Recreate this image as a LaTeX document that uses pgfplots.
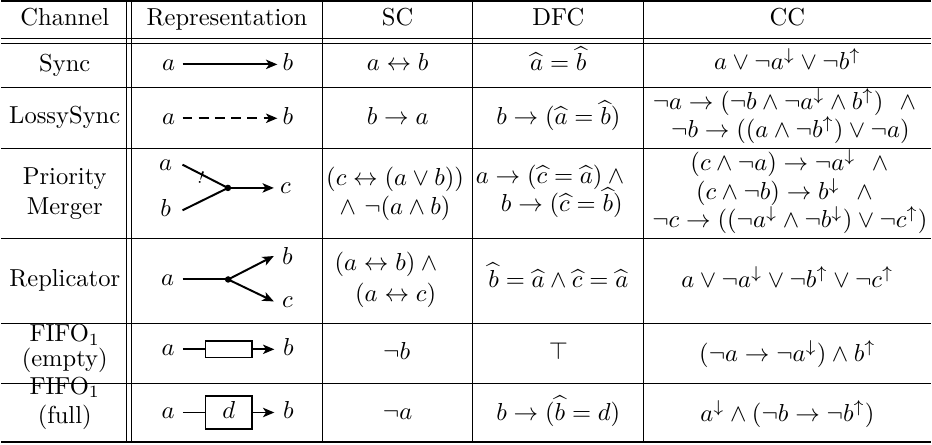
\documentclass[border=0pt]{standalone}
\usepackage{pgfplots}
\pgfplotsset{compat=1.18}
\usetikzlibrary{arrows.meta}

% one axis unit = one pixel of the reference (932 x 445), about 2.46 px per pt
\newcommand{\cell}[3]{\node[anchor=base, inner sep=0pt] at (axis cs:#1,#2) {#3};}
\tikzset{arr/.style={thick, -{Stealth[length=4.6pt, width=3.8pt, inset=1.2pt]}}}

\begin{document}
\begin{tikzpicture}
\begin{axis}[
    width=378.9pt, height=180.9pt, scale only axis,
    xmin=0, xmax=932, ymin=0, ymax=445, y dir=reverse,
    hide axis, clip=false, no marks,
]
% frame
\addplot[draw=none] coordinates {(0,0) (932,445)};
% horizontal rules
\addplot[line width=0.6pt] coordinates {(0,1) (932,1)};
\addplot[line width=0.4pt] coordinates {(0,39) (932,39)};
\addplot[line width=0.4pt] coordinates {(0,44) (932,44)};
\addplot[line width=0.4pt] coordinates {(0,88) (932,88)};
\addplot[line width=0.4pt] coordinates {(0,148.5) (932,148.5)};
\addplot[line width=0.4pt] coordinates {(0,239) (932,239)};
\addplot[line width=0.4pt] coordinates {(0,324) (932,324)};
\addplot[line width=0.4pt] coordinates {(0,384) (932,384)};
\addplot[line width=0.7pt] coordinates {(0,443) (932,443)};
% vertical rules
\addplot[line width=0.4pt] coordinates {(126,1) (126,443)};
\addplot[line width=0.4pt] coordinates {(131,1) (131,443)};
\addplot[line width=0.4pt] coordinates {(322,1) (322,443)};
\addplot[line width=0.4pt] coordinates {(473,1) (473,443)};
\addplot[line width=0.4pt] coordinates {(644,1) (644,443)};

% header
\cell{64}{26}{Channel}
\cell{226.5}{26}{Representation}
\cell{397.5}{26}{SC}
\cell{558.5}{26}{DFC}
\cell{788}{26}{CC}

% Sync
\cell{64}{72}{Sync}
\cell{168}{71}{$a$}
\cell{287.5}{71}{$b$}
\addplot[arr] coordinates {(182,64.5) (277,64.5)};
\cell{397.5}{71}{$a \leftrightarrow b$}
\cell{558.5}{71}{$\widehat{a} = \widehat{b}$}
\cell{788}{70}{$a \vee \neg a^{\downarrow} \vee \neg b^{\uparrow}$}

% LossySync
\cell{64}{124}{LossySync}
\cell{168}{124.5}{$a$}
\cell{287.5}{124.5}{$b$}
\addplot[arr, dash pattern=on 4pt off 2.6pt] coordinates {(182,118.5) (277,118.5)};
\cell{397.5}{125}{$b \rightarrow a$}
\cell{558.5}{125}{$b \rightarrow (\widehat{a} = \widehat{b})$}
\cell{785}{110}{$\neg a \rightarrow (\neg b \wedge \neg a^{\downarrow} \wedge b^{\uparrow})\ \ \wedge$}
\cell{791}{138}{$\neg b \rightarrow ((a \wedge \neg b^{\uparrow}) \vee \neg a)$}

% Priority Merger
\cell{64}{185}{Priority}
\cell{64}{215}{Merger}
\cell{165}{170.5}{$a$}
\cell{165}{216.5}{$b$}
\cell{285}{193.5}{$c$}
\addplot[thick] coordinates {(182,165) (227.5,188.3)};
\addplot[thick] coordinates {(182,210.7) (227.5,188.3)};
\addplot[arr] coordinates {(227.5,188.3) (273.5,188.3)};
\addplot[only marks, mark=*, mark size=1.1pt] coordinates {(227.5,188.3)};
\node[rotate=-18, inner sep=0pt] at (axis cs:201,178) {\scriptsize !};
\cell{395}{186}{$(c \leftrightarrow (a \vee b))$}
\cell{395}{215}{$\wedge\ \neg(a \wedge b)$}
\cell{553}{184}{$a \rightarrow (\widehat{c} = \widehat{a}) \wedge{}$}
\cell{562}{212}{$b \rightarrow (\widehat{c} = \widehat{b})$}
\cell{790}{171}{$(c \wedge \neg a) \rightarrow \neg a^{\downarrow}\ \ \wedge$}
\cell{785}{199.5}{$(c \wedge \neg b) \rightarrow b^{\downarrow}\ \ \wedge$}
\cell{790.5}{228}{$\neg c \rightarrow ((\neg a^{\downarrow} \wedge \neg b^{\downarrow}) \vee \neg c^{\uparrow})$}

% Replicator
\cell{64}{287}{Replicator}
\cell{167}{286.5}{$a$}
\cell{287}{265}{$b$}
\cell{287}{308}{$c$}
\addplot[thick] coordinates {(182,280) (227.7,280)};
\addplot[arr] coordinates {(227.7,280) (273.5,256.5)};
\addplot[arr] coordinates {(227.7,280) (273.5,302)};
\addplot[only marks, mark=*, mark size=1.1pt] coordinates {(227.7,280)};
\cell{388.5}{271}{$(a \leftrightarrow b) \wedge{}$}
\cell{395.5}{302}{$(a \leftrightarrow c)$}
\cell{558.5}{288}{$\widehat{b} = \widehat{a} \wedge \widehat{c} = \widehat{a}$}
\cell{788}{288}{$a \vee \neg a^{\downarrow} \vee \neg b^{\uparrow} \vee \neg c^{\uparrow}$}

% FIFO1 (empty)
\cell{64}{342}{FIFO$_1$}
\cell{64}{367}{(empty)}
\cell{167.5}{356.5}{$a$}
\cell{288}{356.5}{$b$}
\addplot[thick] coordinates {(182.3,350) (205,350)};
\addplot[semithick, line cap=rect] coordinates {(205,341.7) (251.7,341.7) (251.7,358.3) (205,358.3) (205,341.7)};
\addplot[arr] coordinates {(251.7,350) (274,350)};
\cell{396.5}{360}{$\neg b$}
\cell{558.5}{360}{$\top$}
\cell{788}{362}{$(\neg a \rightarrow \neg a^{\downarrow}) \wedge b^{\uparrow}$}

% FIFO1 (full)
\cell{64}{395}{FIFO$_1$}
\cell{64}{424}{(full)}
\cell{167.5}{419}{$a$}
\cell{288}{419}{$b$}
\cell{228.3}{419}{$d$}
\addplot[thick] coordinates {(182.3,413.3) (205,413.3)};
\addplot[semithick, line cap=rect] coordinates {(205,396.7) (251.7,396.7) (251.7,430) (205,430) (205,396.7)};
\addplot[arr] coordinates {(251.7,413.3) (274,413.3)};
\cell{397.5}{420}{$\neg a$}
\cell{558.5}{421}{$b \rightarrow (\widehat{b} = d)$}
\cell{788}{422}{$a^{\downarrow} \wedge (\neg b \rightarrow \neg b^{\uparrow})$}
\end{axis}
\end{tikzpicture}
\end{document}
